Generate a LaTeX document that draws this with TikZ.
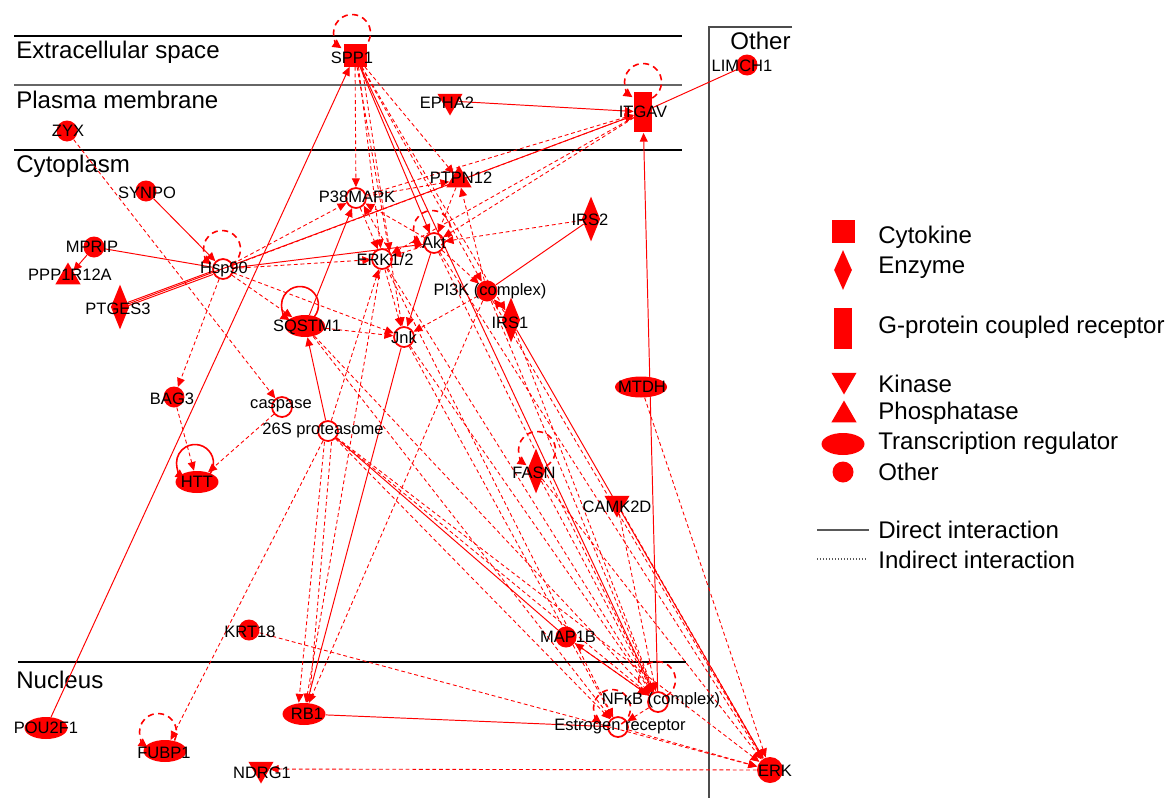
\documentclass[tikz,border=0pt]{standalone}
\usepackage{fontspec}
\setmainfont{Liberation Sans}
\usetikzlibrary{calc,arrows.meta,shapes.geometric}
\def\selfloop[#1](#2){\draw[#1] ($(#2)+(-60:0.37cm)$) arc[start angle=-60, end angle=235, radius=0.37cm];}

\tikzset{
	gene/.style={inner sep=0pt, fill=red},
	cyto/.style={gene, rectangle, minimum size=0.46cm},
	gpcr/.style={gene, rectangle, minimum width=0.36cm, minimum height=0.82cm},
	enzyme/.style={gene, diamond, minimum width=0.37cm, minimum height=0.9cm},
	kinase/.style={gene, regular polygon, regular polygon sides=3, shape border rotate=180, minimum size=0.58cm},
	phosph/.style={gene, regular polygon, regular polygon sides=3, minimum size=0.58cm},
	transreg/.style={gene, ellipse, minimum width=0.86cm, minimum height=0.44cm},
	other/.style={gene, circle, minimum size=0.42cm},
	group/.style={circle, draw=red, line width=1pt, inner sep=0pt, minimum size=0.4cm},
	genelbl/.style={font=\fontsize{9.4}{11}\selectfont, inner sep=0pt},
	bigtxt/.style={font=\fontsize{13.7}{16}\selectfont, inner sep=0pt, anchor=west},
	direct/.style={draw=red, line width=0.55pt, -{Triangle[length=5pt,width=4.5pt]}},
	bind/.style={draw=red, line width=0.55pt},
	indirect/.style={direct, line width=0.5pt, dash pattern=on 2.2pt off 1.6pt},
	loopdash/.style={draw=red, line width=0.9pt, dash pattern=on 3.5pt off 2.5pt, -{Triangle[length=5pt,width=5pt]}},
	loopsolid/.style={draw=red, line width=0.9pt, -{Triangle[length=5pt,width=5pt]}}
}

\begin{document}
\begin{tikzpicture}[x=0.02cm, y=-0.02cm]
		%%%%% START %%%%%
		\useasboundingbox (0,0) rectangle (1166,798);
		
		% compartments
		\draw[line width=0.6pt] (14,36) -- (682,36);
		\draw[line width=0.8pt, color=black!60] (14,85) -- (682,85);
		\draw[line width=0.6pt] (14,150) -- (682,150);
		\draw[line width=0.6pt] (18,662) -- (686,662);
		\draw[line width=0.7pt, color=black!70] (792,27) -- (709,27) -- (709,798);
		
		\node[bigtxt] (ecs) at (16,52) {Extracellular space};
		\node[bigtxt] (pm) at (16,100) {Plasma membrane};
		\node[bigtxt] (cyt) at (16,166) {Cytoplasm};
		\node[bigtxt] (nuc) at (16,680) {Nucleus};
		\node[bigtxt] (oth) at (730,41) {Other};
		
		% molecules
		\node[cyto] (spp1) at (355,55) {};
		\node[other] (limch1) at (747,65) {};
		\node[kinase] (epha2) at (450,101) {};
		\node[gpcr] (itgav) at (643,112) {};
		\node[other] (zyx) at (67,131) {};
		\node[other] (synpo) at (146,191) {};
		\node[group] (p38) at (356,198) {};
		\node[phosph] (ptpn12) at (459,180) {};
		\node[group] (akt) at (434,243) {};
		\node[enzyme] (irs2) at (591,219) {};
		\node[other] (mprip) at (94,247) {};
		\node[phosph] (ppp1r12a) at (68,277) {};
		\node[group] (hsp90) at (223,269) {};
		\node[group] (erk12) at (382,259) {};
		\node[other] (pi3k) at (487,291) {};
		\node[enzyme] (ptges3) at (120,307) {};
		\node[transreg, minimum width=0.8cm] (sqstm1) at (305,326) {};
		\node[enzyme] (irs1) at (511,320) {};
		\node[group] (jnk) at (404,337) {};
		\node[transreg, minimum width=1.04cm, minimum height=0.42cm] (mtdh) at (641,387) {};
		\node[other] (bag3) at (174,397) {};
		\node[group] (caspase) at (282,407) {};
		\node[group] (prot) at (328,431) {};
		\node[enzyme] (fasn) at (536,471) {};
		\node[transreg] (htt) at (197,482) {};
		\node[kinase] (camk2d) at (617,503) {};
		\node[other] (krt18) at (249,630) {};
		\node[other] (map1b) at (566,637) {};
		\node[group] (nfkb) at (658,702) {};
		\node[group] (esr) at (618,727) {};
		\node[transreg] (pou2f1) at (46,728) {};
		\node[transreg] (rb1) at (304,714) {};
		\node[transreg] (fubp1) at (165,751) {};
		\node[kinase] (ndrg1) at (261,769) {};
		\node[other, minimum size=0.52cm] (erk) at (770,770) {};
		
		% direct interactions
		\draw[direct] (pou2f1) -- (spp1);
		\draw[direct] (spp1) -- (akt);
		\draw[direct] (spp1) -- (nfkb);
		\draw[direct] (epha2) -- (itgav);
		\draw[direct] (ptges3) -- (itgav);
		\draw[bind] (limch1) -- (itgav);
		\draw[bind, transform canvas={yshift=1pt}] (ptges3) -- (hsp90);
		\draw[bind, transform canvas={yshift=-1pt}] (ptges3) -- (hsp90);
		\draw[bind] (mprip) -- (hsp90);
		\draw[direct] (mprip) -- (ppp1r12a);
		\draw[direct] (synpo) -- (hsp90);
		\draw[direct] (hsp90) -- (akt);
		\draw[direct] (sqstm1) -- (p38);
		\draw[direct] (prot) -- (sqstm1);
		\draw[bind] (prot) -- (map1b);
		\draw[direct] (map1b) -- (nfkb);
		\draw[direct] (jnk) -- (rb1);
		\draw[direct] (akt) -- (jnk);
		\draw[bind] (rb1) -- (esr);
		\draw[direct] (nfkb) -- (itgav);
		\draw[bind] (irs2) -- (pi3k);
		\draw[direct] (irs1) -- (erk);
		
		% indirect interactions
		\draw[indirect] (spp1) -- (p38);
		\draw[indirect] ([xshift=2pt]spp1.south) -- (erk12);
		\draw[indirect] ([xshift=4pt]spp1.south) -- (erk12.north east);
		\draw[indirect] (spp1) -- (jnk);
		\draw[indirect] (spp1) -- (ptpn12);
		\draw[indirect] (spp1) -- (pi3k);
		\draw[indirect] (spp1) -- (irs1);
		\draw[indirect] (hsp90) -- (itgav);
		\draw[indirect] (p38) -- (itgav);
		\draw[indirect] (itgav) -- (akt);
		\draw[indirect] (itgav) -- (erk12);
		\draw[indirect] (p38) -- (ptpn12);
		\draw[indirect] (pi3k) -- (ptpn12);
		\draw[indirect] (ptpn12) -- (akt);
		\draw[indirect] (irs2) -- (akt);
		\draw[indirect] (hsp90) -- (p38);
		\draw[indirect] (hsp90) -- (erk12);
		\draw[indirect] (hsp90) -- (sqstm1);
		\draw[indirect] (hsp90) -- (jnk);
		\draw[indirect] (hsp90) -- (bag3);
		\draw[indirect] (zyx) -- (caspase);
		\draw[indirect] (bag3) -- (htt);
		\draw[indirect] (caspase) -- (htt);
		\draw[indirect] (p38) -- (erk12);
		\draw[indirect] (erk12.north east) -- (p38.south east);
		\draw[indirect] (akt) -- (erk12);
		\draw[indirect] (akt) -- (p38);
		\draw[indirect] (erk12) -- (jnk);
		\draw[indirect] (pi3k) -- (jnk);
		\draw[indirect] (akt) -- (pi3k);
		\draw[indirect] (irs1) -- (pi3k);
		\draw[indirect] (sqstm1) -- (jnk);
		\draw[indirect] ([xshift=-2pt]prot.south) -- ([xshift=-3pt]rb1.north);
		\draw[indirect] ([xshift=2pt]prot.south) -- ([xshift=3pt]rb1.north);
		\draw[indirect] (prot) -- (fubp1);
		\draw[indirect] (prot) -- (erk12);
		\draw[indirect] (prot) -- (nfkb);
		\draw[indirect] (prot) -- (esr);
		\draw[indirect] (prot) -- (erk);
		\draw[indirect] (krt18) -- (erk);
		\draw[indirect] (erk) -- (ndrg1);
		\draw[indirect] (nfkb) -- (map1b);
		\draw[indirect] (jnk) -- (nfkb);
		\draw[indirect] (erk12) -- (nfkb);
		\draw[indirect] (akt) -- (nfkb);
		\draw[indirect] (pi3k) -- (nfkb);
		\draw[indirect] (irs1) -- (nfkb);
		\draw[indirect] (sqstm1) -- (nfkb);
		\draw[indirect] (sqstm1) -- (esr);
		\draw[indirect] (jnk) -- (esr);
		\draw[indirect] (erk12) -- (esr);
		\draw[indirect] (fasn) -- (erk);
		\draw[indirect] (pi3k) -- (erk);
		\draw[indirect] (camk2d) -- (erk);
		\draw[indirect] (camk2d) -- (nfkb);
		\draw[indirect] (mtdh) -- (erk);
		\draw[indirect] (akt) -- (erk);
		\draw[indirect] (nfkb) -- (esr);
		\draw[indirect] (fasn) -- (nfkb);
		\draw[indirect] (erk12) -- (rb1);
		\draw[indirect] (pi3k) -- (rb1);
		\draw[indirect] (esr) -- (erk);
		
		% self loops
		\coordinate (spp1-loop) at (352,33);
		\coordinate (itgav-loop) at (643,82);
		\coordinate (akt-loop) at (432,229);
		\coordinate (hsp90-loop) at (222,249);
		\coordinate (sqstm1-loop) at (300,305);
		\coordinate (fasn-loop) at (537,450);
		\coordinate (htt-loop) at (195,463);
		\coordinate (nfkb-loop) at (657,680);
		\coordinate (esr-loop) at (612,708);
		\coordinate (fubp1-loop) at (158,732);
		\selfloop[loopdash](spp1-loop)
		\selfloop[loopdash](itgav-loop)
		\selfloop[loopdash](akt-loop)
		\selfloop[loopdash](hsp90-loop)
		\selfloop[loopsolid](sqstm1-loop)
		\selfloop[loopdash](fasn-loop)
		\selfloop[loopsolid](htt-loop)
		\selfloop[loopdash](nfkb-loop)
		\selfloop[loopdash](esr-loop)
		\selfloop[loopdash](fubp1-loop)
		
		% labels
		\node[genelbl] (spp1-lbl) at (352,58) {SPP1};
		\node[genelbl] (limch1-lbl) at (742,66) {LIMCH1};
		\node[genelbl] (epha2-lbl) at (447,103) {EPHA2};
		\node[genelbl] (itgav-lbl) at (643,112) {ITGAV};
		\node[genelbl] (zyx-lbl) at (68,131) {ZYX};
		\node[genelbl] (synpo-lbl) at (147,193) {SYNPO};
		\node[genelbl] (p38-lbl) at (357,197) {P38MAPK};
		\node[genelbl] (ptpn12-lbl) at (461,178) {PTPN12};
		\node[genelbl] (akt-lbl) at (434,243) {Akt};
		\node[genelbl] (irs2-lbl) at (590,220) {IRS2};
		\node[genelbl] (mprip-lbl) at (92,247) {MPRIP};
		\node[genelbl] (ppp1r12a-lbl) at (70,275) {PPP1R12A};
		\node[genelbl] (hsp90-lbl) at (224,269) {Hsp90};
		\node[genelbl] (erk12-lbl) at (385,260) {ERK1/2};
		\node[genelbl] (pi3k-lbl) at (490,291) {PI3K (complex)};
		\node[genelbl] (ptges3-lbl) at (118,309) {PTGES3};
		\node[genelbl] (sqstm1-lbl) at (307,327) {SQSTM1};
		\node[genelbl] (irs1-lbl) at (510,323) {IRS1};
		\node[genelbl] (jnk-lbl) at (404,338) {Jnk};
		\node[genelbl] (mtdh-lbl) at (642,387) {MTDH};
		\node[genelbl] (bag3-lbl) at (172,399) {BAG3};
		\node[genelbl] (caspase-lbl) at (281,406) {caspase};
		\node[genelbl] (prot-lbl) at (323,430) {26S proteasome};
		\node[genelbl] (fasn-lbl) at (534,473) {FASN};
		\node[genelbl] (htt-lbl) at (197,482) {HTT};
		\node[genelbl] (camk2d-lbl) at (617,507) {CAMK2D};
		\node[genelbl] (krt18-lbl) at (250,632) {KRT18};
		\node[genelbl] (map1b-lbl) at (568,637) {MAP1B};
		\node[genelbl] (nfkb-lbl) at (661,700) {NFκB (complex)};
		\node[genelbl] (esr-lbl) at (620,727) {Estrogen receptor};
		\node[genelbl] (pou2f1-lbl) at (46,728) {POU2F1};
		\node[genelbl] (rb1-lbl) at (307,714) {RB1};
		\node[genelbl] (fubp1-lbl) at (164,753) {FUBP1};
		\node[genelbl] (ndrg1-lbl) at (262,773) {NDRG1};
		\node[genelbl] (erk-lbl) at (775,771) {ERK};
		
		% legend
		\node[cyto] (key-cyto) at (843,231) {};
		\node[bigtxt] (key-cyto-t) at (878,237) {Cytokine};
		\node[enzyme, minimum width=0.36cm, minimum height=0.8cm] (key-enz) at (843,270) {};
		\node[bigtxt] (key-enz-t) at (878,268) {Enzyme};
		\node[gpcr] (key-gpcr) at (843,328) {};
		\node[bigtxt] (key-gpcr-t) at (878,327) {G-protein coupled receptor};
		\node[kinase] (key-kin) at (844,380) {};
		\node[bigtxt] (key-kin-t) at (878,384) {Kinase};
		\node[phosph] (key-phos) at (844,415) {};
		\node[bigtxt] (key-phos-t) at (878,413) {Phosphatase};
		\node[transreg] (key-tr) at (843,444) {};
		\node[bigtxt] (key-tr-t) at (878,443) {Transcription regulator};
		\node[other] (key-oth) at (843,472) {};
		\node[bigtxt] (key-oth-t) at (878,472) {Other};
		\draw[line width=0.7pt, color=black!65] (817,530) -- (869,530);
		\node[bigtxt] (key-dir-t) at (878,530) {Direct interaction};
		\draw[line width=0.7pt, color=black!65, densely dotted] (817,559) -- (867,559);
		\node[bigtxt] (key-ind-t) at (878,560) {Indirect interaction};
		
		%%%%% END %%%%%
\end{tikzpicture}
\end{document}
